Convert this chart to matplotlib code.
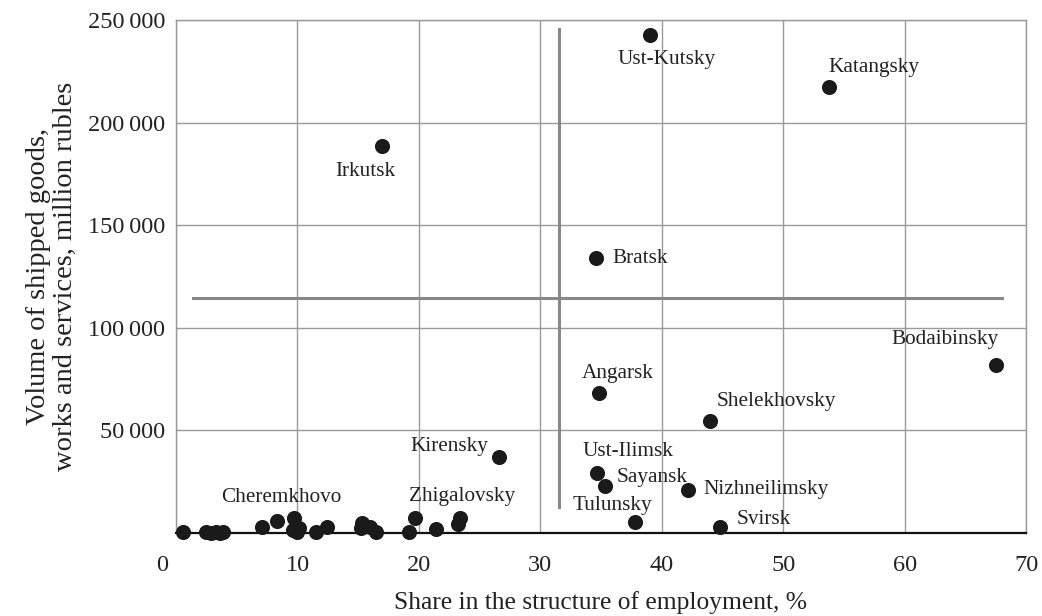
import matplotlib
matplotlib.use('Agg')
import matplotlib.pyplot as plt
import matplotlib.ticker as mticker
import matplotlib.transforms as mtransforms

plt.rcParams['font.family'] = ['Liberation Serif', 'DejaVu Serif']

# Labelled districts
names = ['Ust-Kutsky', 'Katangsky', 'Irkutsk', 'Bratsk', 'Angarsk', 'Shelekhovsky',
         'Bodaibinsky', 'Kirensky', 'Ust-Ilimsk', 'Sayansk', 'Nizhneilimsky',
         'Tulunsky', 'Svirsk', 'Zhigalovsky', 'Cheremkhovo']
share = [39.0, 53.8, 17.0, 34.6, 34.8, 44.0, 67.5, 26.6, 34.7, 35.3, 42.2,
         37.8, 44.8, 23.4, 8.3]
volume = [242700, 217500, 188600, 133900, 68100, 54700, 81900, 37200, 29400,
          22900, 21000, 5500, 3100, 7200, 6000]

# Unlabelled districts
other_share = [0.6, 2.5, 2.9, 3.3, 3.6, 3.9, 7.1, 9.7, 9.6, 10.1, 10.0, 11.5,
               12.4, 15.3, 15.2, 16.0, 16.5, 19.7, 19.2, 21.4, 23.2]
other_volume = [300, 300, 200, 400, 200, 300, 2800, 7200, 1500, 2500, 500, 300,
                2800, 4700, 2300, 3100, 600, 7200, 300, 1800, 4400]

# Mean lines
mean_share = 31.55
mean_volume = 114500
hline_x = [1.4, 68.0]
vline_y = [12800, 245600]

xticks = [0, 10, 20, 30, 40, 50, 60, 70]
yticks = [50000, 100000, 150000, 200000, 250000]

# label offsets in pixels (dx, dy, ha)
offsets = {
    'Ust-Kutsky': (17, -25, 'center'),
    'Katangsky': (-1, 19, 'left'),
    'Irkutsk': (-17, -26, 'center'),
    'Bratsk': (16, 0, 'left'),
    'Angarsk': (19, 20, 'center'),
    'Shelekhovsky': (6, 19, 'left'),
    'Bodaibinsky': (3, 25, 'right'),
    'Kirensky': (-11, 10, 'right'),
    'Ust-Ilimsk': (31, 21, 'center'),
    'Sayansk': (12, 9, 'left'),
    'Nizhneilimsky': (15, 0, 'left'),
    'Tulunsky': (-23, 16, 'center'),
    'Svirsk': (17, 7, 'left'),
    'Zhigalovsky': (2, 22, 'center'),
    'Cheremkhovo': (4, 23, 'center'),
}

fig = plt.figure(figsize=(10.42, 6.16), dpi=100)
ax = fig.add_axes([176 / 1042, 83 / 616, 850 / 1042, 513 / 616])

ax.set_xlim(0, 70)
ax.set_ylim(0, 250000)
ax.set_xticks(xticks)
ax.set_yticks(yticks)
ax.yaxis.set_major_formatter(mticker.FuncFormatter(
    lambda v, p: f'{int(v):,}'.replace(',', '\u2009')))

ax.grid(True, color='#9a9a9a', linewidth=1.0)
ax.set_axisbelow(True)
ax.tick_params(length=0, labelsize=17.5, colors='#222222')
ax.tick_params(axis='y', pad=8)
ax.tick_params(axis='x', pad=16)

for s in ['top', 'right', 'left']:
    ax.spines[s].set_color('#9a9a9a')
    ax.spines[s].set_linewidth(1.0)
ax.spines['bottom'].set_color('#111111')
ax.spines['bottom'].set_linewidth(1.6)

# mean lines
ax.plot(hline_x, [mean_volume, mean_volume], color='#888888', linewidth=2.2, zorder=2)
ax.plot([mean_share, mean_share], vline_y, color='#888888', linewidth=2.2, zorder=2)

ax.scatter(other_share, other_volume, s=118, color='#1a1a1a', zorder=4, clip_on=False,
           linewidths=0)
ax.scatter(share, volume, s=118, color='#1a1a1a', zorder=4, clip_on=False, linewidths=0)

for n, x, y in zip(names, share, volume):
    dx, dy, ha = offsets[n]
    ax.annotate(n, (x, y), xytext=(dx, dy), textcoords='offset pixels',
                ha=ha, va='center', fontsize=15.3, color='#222222')

# the origin label sits a little left of the axis
lbl0 = ax.get_xticklabels()[0]
lbl0.set_transform(lbl0.get_transform() +
                   mtransforms.ScaledTranslation(-14 / 100, 0, fig.dpi_scale_trans))

ax.set_xlabel('Share in the structure of employment, %', fontsize=18.4,
              color='#222222', labelpad=11)
ax.set_ylabel('Volume of shipped goods,\nworks and services, million rubles',
              fontsize=20.5, color='#222222', labelpad=7, linespacing=1.1)

fig.savefig('out.png', dpi=100)
